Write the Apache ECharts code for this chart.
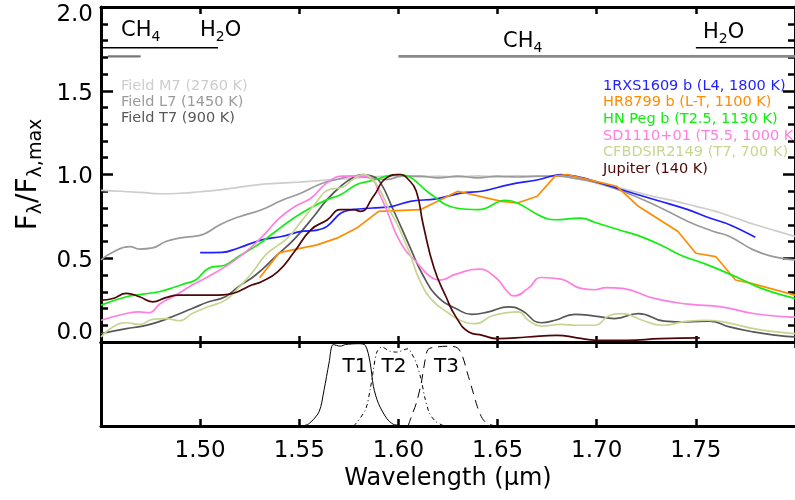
<!DOCTYPE html>
<html><head><meta charset="utf-8">
<script src="https://cdn.jsdelivr.net/npm/echarts@6/dist/echarts.min.js"></script>
<style>html,body{margin:0;padding:0;background:#fff}#c{width:795px;height:500px}</style>
</head><body><div id="c"></div>
<script>
const FONT = 'DejaVu Sans';

// ---- axes ----
const xMin = 1.45, xMax = 1.80, xStep = 0.05;
const yMin = 0, yMax = 2.0, yStep = 0.5;

// ---- legend names ----
const leftNames = ['Field M7 (2760 K)', 'Field L7 (1450 K)', 'Field T7 (900 K)'];
const rightNames = ['1RXS1609 b (L4, 1800 K)', 'HR8799 b (L-T, 1100 K)', 'HN Peg b (T2.5, 1130 K)',
  'SD1110+01 (T5.5, 1000 K)', 'CFBDSIR2149 (T7, 700 K)', 'Jupiter (140 K)'];

// ---- spectra [wavelength (um), normalised flux] ----
const fieldM7 = [[1.45,0.905],[1.46,0.90],[1.47,0.893],[1.48,0.885],[1.49,0.888],[1.50,0.897],[1.51,0.908],[1.52,0.925],[1.53,0.94],[1.54,0.948],[1.55,0.955],[1.56,0.963],[1.57,0.972],[1.58,0.98],[1.59,0.988],[1.60,0.992],[1.61,0.985],[1.62,0.99],[1.63,0.985],[1.64,0.992],[1.65,0.985],[1.66,0.993],[1.67,0.988],[1.68,0.99],[1.69,0.975],[1.70,0.955],[1.71,0.925],[1.72,0.895],[1.73,0.865],[1.74,0.84],[1.75,0.81],[1.76,0.78],[1.77,0.74],[1.78,0.70],[1.79,0.665],[1.80,0.63]];
const fieldL7 = [[1.45,0.49],[1.455,0.53],[1.4645,0.57],[1.4694,0.555],[1.476,0.562],[1.4827,0.60],[1.4894,0.62],[1.4994,0.635],[1.503,0.65],[1.51,0.70],[1.519,0.745],[1.531,0.79],[1.541,0.845],[1.551,0.89],[1.561,0.945],[1.569,0.97],[1.577,0.99],[1.586,0.98],[1.594,0.97],[1.602,0.99],[1.611,0.99],[1.62,0.98],[1.63,0.99],[1.64,0.98],[1.65,0.99],[1.66,0.985],[1.67,0.99],[1.68,0.99],[1.69,0.975],[1.70,0.95],[1.713,0.90],[1.729,0.82],[1.746,0.72],[1.759,0.66],[1.767,0.63],[1.779,0.55],[1.789,0.51],[1.80,0.49]];
const fieldT7 = [[1.45,0.05],[1.4628,0.08],[1.471,0.095],[1.479,0.12],[1.4877,0.16],[1.496,0.20],[1.5043,0.24],[1.5127,0.27],[1.5193,0.33],[1.528,0.40],[1.538,0.51],[1.548,0.62],[1.558,0.76],[1.564,0.85],[1.571,0.93],[1.577,0.98],[1.582,1.0],[1.587,0.99],[1.591,0.95],[1.597,0.80],[1.6057,0.57],[1.6123,0.40],[1.6206,0.26],[1.629,0.20],[1.637,0.165],[1.6455,0.18],[1.6555,0.21],[1.662,0.19],[1.672,0.115],[1.679,0.13],[1.689,0.165],[1.699,0.155],[1.709,0.14],[1.721,0.17],[1.734,0.125],[1.746,0.12],[1.757,0.125],[1.767,0.09],[1.779,0.06],[1.791,0.04],[1.80,0.03]];
const rxs1609 = [[1.50,0.534],[1.511,0.535],[1.519,0.56],[1.531,0.61],[1.541,0.63],[1.551,0.66],[1.559,0.668],[1.564,0.69],[1.571,0.77],[1.577,0.79],[1.587,0.80],[1.597,0.81],[1.606,0.84],[1.619,0.855],[1.632,0.89],[1.642,0.90],[1.656,0.94],[1.671,0.97],[1.682,1.0],[1.689,0.99],[1.699,0.96],[1.715,0.90],[1.732,0.84],[1.746,0.79],[1.757,0.74],[1.767,0.70],[1.78,0.625]];
const hr8799 = [[1.530,0.384],[1.540,0.534],[1.559,0.58],[1.569,0.62],[1.579,0.68],[1.590,0.78],[1.611,0.79],[1.63,0.90],[1.652,0.84],[1.66,0.83],[1.67,0.87],[1.679,0.99],[1.685,1.0],[1.699,0.96],[1.71,0.93],[1.721,0.81],[1.741,0.66],[1.75,0.53],[1.76,0.51],[1.77,0.37],[1.778,0.35],[1.80,0.28]];
const hnPeg = [[1.45,0.22],[1.4628,0.27],[1.471,0.286],[1.4794,0.30],[1.4877,0.33],[1.4927,0.35],[1.4977,0.37],[1.5043,0.44],[1.5127,0.46],[1.5193,0.51],[1.529,0.58],[1.538,0.66],[1.546,0.73],[1.554,0.79],[1.564,0.85],[1.571,0.88],[1.579,0.94],[1.587,0.965],[1.594,0.99],[1.600,1.0],[1.605,0.99],[1.6155,0.89],[1.629,0.80],[1.6404,0.79],[1.654,0.845],[1.660,0.83],[1.672,0.75],[1.679,0.73],[1.692,0.74],[1.699,0.715],[1.711,0.67],[1.721,0.635],[1.733,0.575],[1.743,0.515],[1.755,0.465],[1.771,0.385],[1.783,0.32],[1.80,0.26]];
const sd1110 = [[1.45,0.13],[1.4628,0.17],[1.4694,0.18],[1.474,0.175],[1.48,0.23],[1.4877,0.28],[1.496,0.34],[1.504,0.39],[1.5127,0.45],[1.52,0.51],[1.527,0.58],[1.533,0.65],[1.540,0.74],[1.548,0.81],[1.556,0.86],[1.564,0.95],[1.572,0.99],[1.58,0.99],[1.586,0.975],[1.591,0.87],[1.595,0.76],[1.599,0.64],[1.604,0.54],[1.6074,0.50],[1.6173,0.38],[1.621,0.37],[1.629,0.405],[1.6404,0.435],[1.649,0.385],[1.655,0.30],[1.658,0.275],[1.6654,0.32],[1.672,0.385],[1.682,0.375],[1.692,0.32],[1.699,0.312],[1.705,0.325],[1.713,0.32],[1.729,0.26],[1.746,0.226],[1.763,0.21],[1.779,0.17],[1.796,0.15],[1.80,0.148]];
const cfbdsir2149 = [[1.45,0.03],[1.456,0.09],[1.4628,0.115],[1.4694,0.105],[1.476,0.135],[1.4827,0.14],[1.4894,0.127],[1.496,0.17],[1.504,0.21],[1.5127,0.25],[1.519,0.32],[1.526,0.41],[1.533,0.52],[1.539,0.575],[1.544,0.62],[1.551,0.72],[1.559,0.84],[1.564,0.905],[1.572,0.925],[1.577,0.97],[1.582,1.0],[1.587,0.97],[1.591,0.90],[1.595,0.80],[1.5995,0.70],[1.6057,0.53],[1.6107,0.37],[1.617,0.25],[1.6256,0.17],[1.632,0.125],[1.639,0.11],[1.647,0.155],[1.655,0.175],[1.6605,0.18],[1.6655,0.13],[1.672,0.095],[1.682,0.105],[1.69,0.10],[1.699,0.10],[1.706,0.155],[1.713,0.17],[1.723,0.13],[1.733,0.10],[1.746,0.125],[1.756,0.13],[1.768,0.11],[1.779,0.08],[1.791,0.06],[1.80,0.05]];
const jupiter = [[1.45,0.25],[1.456,0.26],[1.4628,0.29],[1.4694,0.27],[1.476,0.24],[1.4827,0.265],[1.4894,0.28],[1.4994,0.28],[1.509,0.28],[1.5143,0.285],[1.519,0.30],[1.526,0.34],[1.5309,0.36],[1.5392,0.42],[1.5476,0.54],[1.5558,0.67],[1.5642,0.73],[1.5708,0.79],[1.5775,0.79],[1.5808,0.78],[1.5874,0.87],[1.594,0.98],[1.601,1.0],[1.605,0.97],[1.609,0.90],[1.6125,0.70],[1.618,0.44],[1.624,0.27],[1.629,0.15],[1.6355,0.06],[1.6423,0.04],[1.65,0.02],[1.665,0.03],[1.68,0.04],[1.69,0.025],[1.70,0.01],[1.715,0.01],[1.732,0.02],[1.752,0.025]];

// ---- band markers [wavelength, level] ----
const bandH2OLeft = [[1.45,1.757],[1.509,1.757]];
const bandCH4Left = [[1.4535,1.705],[1.47,1.705]];
const bandCH4Right = [[1.60,1.705],[1.80,1.705]];
const bandH2ORight = [[1.75,1.757],[1.80,1.757]];

// ---- filter transmission curves (lower panel) ----
const filterT1 = [[1.5517,0.0],[1.555,0.03],[1.56,0.17],[1.5625,0.43],[1.565,0.75],[1.5671,0.97],[1.5708,0.95],[1.5733,0.97],[1.58,0.98],[1.5833,0.96],[1.5857,0.76],[1.5874,0.47],[1.5899,0.27],[1.5941,0.09],[1.5974,0.02],[1.60,0.01]];
const filterT2 = [[1.5775,0.0],[1.5833,0.19],[1.5857,0.43],[1.5874,0.67],[1.5891,0.88],[1.5916,0.94],[1.5957,0.89],[1.5991,0.88],[1.6049,0.92],[1.6065,0.87],[1.609,0.75],[1.6115,0.55],[1.6132,0.35],[1.6157,0.15],[1.619,0.05],[1.6231,0.0]];
const filterT3 = [[1.6049,0.0],[1.6065,0.11],[1.609,0.27],[1.6115,0.51],[1.6132,0.75],[1.6149,0.91],[1.619,0.94],[1.6256,0.95],[1.6298,0.93],[1.6323,0.83],[1.6348,0.63],[1.6373,0.43],[1.6398,0.23],[1.6423,0.09],[1.6448,0.03],[1.6489,0.0]];
const filterNames = ['T1', 'T2', 'T3'];

// ---- styling (kept separate from the data) ----
const spectra = [fieldM7, fieldL7, fieldT7, rxs1609, hr8799, hnPeg, sd1110, cfbdsir2149, jupiter];
const spectraNames = leftNames.concat(rightNames);
const spectraColors = ['#cdcdcd', '#9a9a9a', '#585858', '#1f1fff', '#ff8c00', '#10ee10', '#ff7ee0', '#c6d690', '#4e0606'];
const spectraSmooth = [0.5, 0.5, 0.5, 0.4, false, 0.45, 0.5, 0.5, 0.5];

const chart = echarts.init(document.getElementById('c'), null, {renderer: 'canvas'});

const axisLineStyle = {color: '#000', width: 3};
const tickStyle = {color: '#000', width: 2.5};

function xAx(gridIndex, position, tickLen, showLabel) {
  return {
    type: 'value', gridIndex, position, min: xMin, max: xMax, interval: xStep,
    axisLine: {show: true, onZero: false, lineStyle: axisLineStyle},
    axisTick: {show: true, inside: true, length: tickLen, lineStyle: tickStyle},
    splitLine: {show: false},
    axisLabel: showLabel ? {
      show: true, margin: 14, fontFamily: FONT, fontSize: 23, color: '#000',
      showMinLabel: false, showMaxLabel: false,
      formatter: v => v.toFixed(2)
    } : {show: false}
  };
}

const series = spectra.map((d, i) => ({
  type: 'line', name: spectraNames[i], data: d, xAxisIndex: 0, yAxisIndex: 0,
  showSymbol: false, symbol: 'none', smooth: spectraSmooth[i],
  lineStyle: {color: spectraColors[i], width: 1.7}, silent: true, z: 3 + i
}));

[[bandH2OLeft, '#000', 1.5], [bandCH4Left, '#777', 2.2], [bandCH4Right, '#888', 2.6], [bandH2ORight, '#000', 1.5]]
  .forEach(([d, c, w]) => series.push({
    type: 'line', data: d, xAxisIndex: 0, yAxisIndex: 0, showSymbol: false, symbol: 'none',
    lineStyle: {color: c, width: w}, silent: true, z: 2
  }));

const filterDash = ['solid', [4, 3, 1, 3], [9, 6]];
[filterT1, filterT2, filterT3].forEach((d, i) => series.push({
  type: 'line', name: filterNames[i], data: d, xAxisIndex: 3, yAxisIndex: 2,
  showSymbol: false, symbol: 'none', smooth: 0.3,
  lineStyle: {color: '#000', width: 1, type: filterDash[i]}, silent: true
}));

const yLabRich = {
  lo: {fontFamily: FONT, fontSize: 23, color: '#000', padding: [0, 0, 18, 0]},
  hi: {fontFamily: FONT, fontSize: 23, color: '#000', padding: [16, 0, 0, 0]},
  n:  {fontFamily: FONT, fontSize: 23, color: '#000', padding: [6, 0, 0, 0]}
};

function txt(x, y, text, color, size) {
  return {type: 'text', silent: true, style: {x, y, text, fill: color, fontFamily: FONT, fontSize: size, align: 'left', verticalAlign: 'middle'}};
}
function subTxt(x, y, main, sub, rest, drop) {
  return {type: 'text', silent: true, style: {
    x, y, align: 'left', verticalAlign: 'middle', fill: '#000',
    text: '{m|' + main + '}{s|' + sub + '}' + (rest ? '{m|' + rest + '}' : ''),
    rich: {
      m: {fontFamily: FONT, fontSize: 21, lineHeight: 26, fill: '#000'},
      s: {fontFamily: FONT, fontSize: 14, lineHeight: 26 - 2 * drop, verticalAlign: 'bottom', fill: '#000'}
    }
  }};
}

const graphics = [];
leftNames.forEach((n, i) => graphics.push(txt(121, 86 + i * 16.3, n, spectraColors[i], 14.5)));
rightNames.forEach((n, i) => graphics.push(txt(603, 86 + i * 16.6, n, spectraColors[3 + i], 14.5)));
graphics.push(subTxt(121, 31, 'CH', '4', '', 9.5));
graphics.push(subTxt(200, 31, 'H', '2', 'O', 9.5));
graphics.push(subTxt(503, 42, 'CH', '4', '', 10));
graphics.push(subTxt(703, 33, 'H', '2', 'O', 9.5));
[[355, 367], [394, 367], [446.5, 367]].forEach((p, i) => graphics.push({
  type: 'text', silent: true, style: {x: p[0], y: p[1], text: filterNames[i], fill: '#000', fontFamily: FONT, fontSize: 20, align: 'center', verticalAlign: 'middle'}
}));

chart.setOption({
  animation: false,
  backgroundColor: '#fff',
  grid: [
    {left: 101, top: 7, width: 703, height: 335},
    {left: 101, top: 342, width: 703, height: 84}
  ],
  xAxis: [
    xAx(0, 'bottom', 6, false),
    xAx(0, 'top', 7, false),
    xAx(1, 'top', 6, false),
    Object.assign(xAx(1, 'bottom', 7, true), {
      name: 'Wavelength (μm)', nameLocation: 'middle', nameGap: 41,
      nameTextStyle: {fontFamily: FONT, fontSize: 24, color: '#000'}
    })
  ],
  yAxis: [
    {
      type: 'value', gridIndex: 0, position: 'left', min: yMin, max: yMax, interval: yStep,
      axisLine: {show: true, onZero: false, lineStyle: axisLineStyle},
      axisTick: {show: true, inside: true, length: 12, lineStyle: tickStyle},
      minorTick: {show: true, splitNumber: 5, length: 7, lineStyle: tickStyle},
      splitLine: {show: false}, minorSplitLine: {show: false},
      axisLabel: {show: true, margin: 8, fontFamily: FONT, fontSize: 23, color: '#000',
        formatter: v => {
          const s = v.toFixed(1);
          if (v === yMin) return '{lo|' + s + '}';
          if (v === yMax) return '{hi|' + s + '}';
          return '{n|' + s + '}';
        }, rich: yLabRich},
      name: '{f|F}{s|λ}{f|/F}{s|λ,max}', nameLocation: 'middle', nameGap: 50, nameRotate: 90,
      nameTextStyle: {fontFamily: FONT, fontSize: 27, color: '#000', rich: {
        f: {fontFamily: FONT, fontSize: 28, lineHeight: 34, color: '#000'},
        s: {fontFamily: FONT, fontSize: 19, lineHeight: 16, verticalAlign: 'bottom', color: '#000'}
      }}
    },
    {
      type: 'value', gridIndex: 0, position: 'right', min: yMin, max: yMax, interval: yStep,
      axisLine: {show: true, onZero: false, lineStyle: axisLineStyle},
      axisTick: {show: true, inside: true, length: 12, lineStyle: tickStyle},
      minorTick: {show: true, splitNumber: 5, length: 7, lineStyle: tickStyle},
      splitLine: {show: false}, axisLabel: {show: false}
    },
    {
      type: 'value', gridIndex: 1, position: 'left', min: 0, max: 1,
      axisLine: {show: true, onZero: false, lineStyle: axisLineStyle},
      axisTick: {show: false}, splitLine: {show: false}, axisLabel: {show: false}
    }
  ],
  graphic: graphics,
  series
});
</script></body></html>
